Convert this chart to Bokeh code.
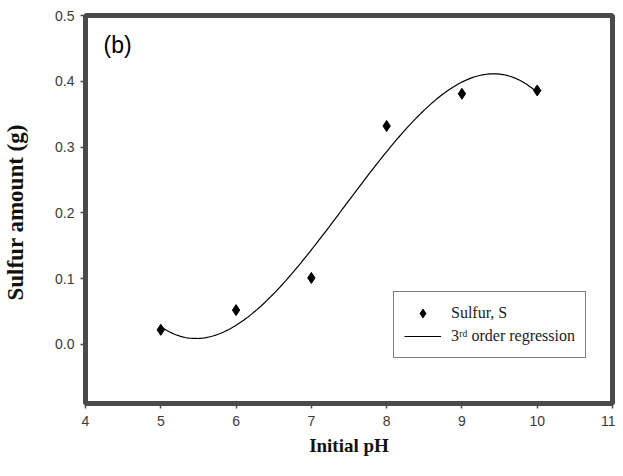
import numpy as np
from bokeh.plotting import figure
from bokeh.models import Range1d, FixedTicker, Label, Legend, LegendItem
from bokeh.embed import file_html
from bokeh.resources import INLINE

# Data
ph = [5, 6, 7, 8, 9, 10]
sulfur = [0.022, 0.052, 0.101, 0.332, 0.381, 0.386]
x_ticks = [4, 5, 6, 7, 8, 9, 10, 11]
y_ticks = [0.0, 0.1, 0.2, 0.3, 0.4, 0.5]
y_tick_labels = {0.0: "0.0", 0.1: "0.1", 0.2: "0.2", 0.3: "0.3", 0.4: "0.4", 0.5: "0.5"}

# 3rd order regression of the data
coef = np.polyfit(ph, sulfur, 3)
fit_x = np.linspace(min(ph), max(ph), 200)
fit_y = np.polyval(coef, fit_x)

p = figure(width=615, height=460, output_backend="svg", toolbar_location=None,
           x_range=Range1d(4, 11), y_range=Range1d(-0.09, 0.5),
           min_border_left=85, min_border_top=15, min_border_right=3, min_border_bottom=57)
p.background_fill_color = "white"
p.border_fill_color = "white"
p.grid.visible = False
p.outline_line_color = "#4a4a4a"
p.outline_line_width = 5

for ax in (p.xaxis, p.yaxis):
    ax.axis_line_color = None
    ax.major_tick_out = 5
    ax.major_tick_in = 0
    ax.minor_tick_line_color = None
    ax.major_tick_line_color = "#4a4a4a"
    ax.major_tick_line_width = 1.5
    ax.major_label_text_font = "Liberation Sans"
    ax.major_label_text_font_size = "14px"
    ax.major_label_text_color = "#3a3a3a"
    ax.axis_label_text_font = "Liberation Serif"
    ax.axis_label_text_font_style = "bold"
    ax.axis_label_text_color = "#111111"

p.xaxis.axis_label_text_font_size = "19px"
p.yaxis.axis_label_text_font_size = "23px"
p.xaxis.ticker = FixedTicker(ticks=x_ticks)
p.yaxis.ticker = FixedTicker(ticks=y_ticks)
p.yaxis.major_label_overrides = y_tick_labels
p.xaxis.axis_label = "Initial pH"
p.yaxis.axis_label = "Sulfur  amount (g)"
p.xaxis.major_label_standoff = 7
p.yaxis.major_label_standoff = 6
p.xaxis.axis_label_standoff = 6
p.yaxis.axis_label_standoff = 24

r_line = p.line(fit_x, fit_y, line_color="black", line_width=1.2)
r_pts = p.scatter(ph, sulfur, marker="diamond", size=11, color="black")

legend = Legend(items=[LegendItem(label="Sulfur, S", renderers=[r_pts]),
                       LegendItem(label="3ʳᵈ order regression", renderers=[r_line])],
                location=(308, 45))
legend.border_line_color = "black"
legend.border_line_width = 1
legend.background_fill_alpha = 1
legend.label_text_font = "Liberation Serif"
legend.label_text_font_size = "16px"
legend.label_text_color = "#222222"
legend.glyph_width = 37
legend.glyph_height = 22
legend.label_height = 22
legend.spacing = 1
legend.padding = 10
legend.margin = 0
legend.label_standoff = 10
p.add_layout(legend, "center")

p.add_layout(Label(x=4.24, y=0.435, text="(b)", text_font="Liberation Sans",
                   text_font_size="23px", text_color="black"))

open("out.html", "w").write(file_html(p, INLINE))
